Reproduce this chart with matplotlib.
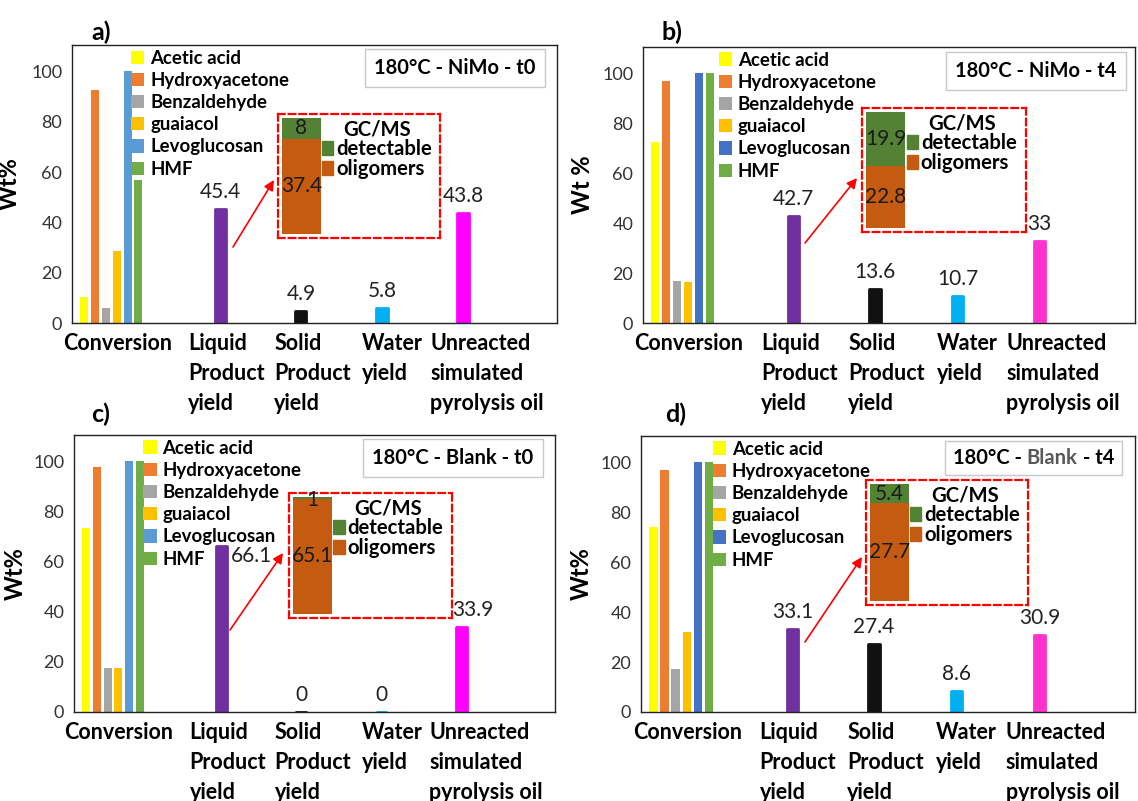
import matplotlib
matplotlib.use("Agg")
import matplotlib.pyplot as plt
from matplotlib.patches import FancyArrowPatch, Patch, Rectangle
from matplotlib.text import Annotation
from matplotlib.transforms import Bbox

plt.rcParams['font.family'] = ['Lato', 'DejaVu Sans']

# ---- data ----
compounds = ['Acetic acid', 'Hydroxyacetone', 'Benzaldehyde', 'guaiacol', 'Levoglucosan', 'HMF']
categories = ['Liquid\nProduct\nyield', 'Solid\nProduct\nyield', 'Water\nyield',
              'Unreacted\nsimulated\npyrolysis oil']
panel_letters = ['a)', 'b)', 'c)', 'd)']
ylabels = ['Wt%', 'Wt %', 'Wt%', 'Wt%']
titles = ['180°C - NiMo - t0', '180°C - NiMo - t4', '180°C - Blank - t0', '180°C - Blank - t4']

conv_a = [10.4, 92.8, 6.1, 28.8, 100, 57]
conv_b = [72.4, 97.0, 17.0, 16.5, 100, 100]
conv_c = [73.4, 97.8, 17.6, 17.4, 100, 100]
conv_d = [74.0, 96.8, 17.2, 32.0, 100, 100]

yields_a = [45.4, 4.9, 5.8, 43.8]
yields_b = [42.7, 13.6, 10.7, 33]
yields_c = [66.1, 0, 0, 33.9]
yields_d = [33.1, 27.4, 8.6, 30.9]

gcms_detectable = [8, 19.9, 1, 5.4]
gcms_oligomers = [37.4, 22.8, 65.1, 27.7]

conversions = [conv_a, conv_b, conv_c, conv_d]
yields = [yields_a, yields_b, yields_c, yields_d]

# ---- layout (pixels of the 1138x801 canvas) ----
W, H = 1138, 801
fig = plt.figure(figsize=(W / 100, H / 100), dpi=100)

def fx(px):
    return px / W

def fy(py):
    return 1 - py / H

axes_px = [(72, 45, 557, 323), (643, 47, 1135, 323), (74, 435, 555, 712), (641, 436, 1135, 712)]
inset_px = [(278, 114, 440, 238), (862, 108, 1026, 232), (289, 493, 452, 618), (866, 480, 1028, 605)]
arrows_px = [((233, 247), (274, 180)), ((805, 243), (857, 178)),
             ((230, 630), (283, 553)), ((805, 642), (862, 557))]
letters_px = [(101, 32), (672, 32), (101, 414), (676, 414)]
title_px = [(455, 68), (1036, 71), (453, 458), (1040, 458)]
legend_x = [0.118, 0.15, 0.14, 0.142]
ylab_x = [-0.105, -0.10, -0.098, -0.097]

conv_colors_ac = ['#FFFF00', '#ED7D31', '#A5A5A5', '#FFC000', '#5B9BD5', '#70AD47']
conv_colors_bd = ['#FFFF00', '#ED7D31', '#A5A5A5', '#FFC000', '#4472C4', '#70AD47']
yield_colors_ac = ['#7030A0', '#111111', '#00B0F0', '#FF00FF']
yield_colors_bd = ['#7030A0', '#111111', '#00B0F0', '#FF33CC']

cat_x = [1.36, 2.36, 3.37, 4.38]
label_x = [0.96, 2.03, 3.12, 3.97]
title_fp = dict(fontsize=14.5, fontweight='bold')

for i in range(4):
    x0, y0, x1, y1 = axes_px[i]
    ax = fig.add_axes([fx(x0), fy(y1), (x1 - x0) / W, (y1 - y0) / H])
    cc = conv_colors_ac if i in (0, 2) else conv_colors_bd
    yc = yield_colors_ac if i in (0, 2) else yield_colors_bd

    handles = []
    for k, (name, val) in enumerate(zip(compounds, conversions[i])):
        b = ax.bar((k - 2.5) * 0.135, val, width=0.1, color=cc[k], label=name, zorder=2)
        handles.append(b)

    bars = ax.bar(cat_x, yields[i], width=0.14, color=yc, edgecolor=yc, linewidth=2, zorder=2)
    for p in bars.patches:
        p.set_joinstyle('round')
    for j, (xx, v) in enumerate(zip(cat_x, yields[i])):
        if i == 2 and j == 0:
            # this label sits beside the bar top, next to the legend
            ax.annotate(f"{v:g}", xy=(xx + 0.1, v), xytext=(1, -7), textcoords='offset points',
                        ha='left', va='center', fontsize=15, color='#222222')
        else:
            dx = 8 if (i == 2 and j == 3) else 0
            ax.annotate(f"{v:g}", xy=(xx, v), xytext=(dx, 5), textcoords='offset points',
                        ha='center', va='bottom', fontsize=15, color='#222222')

    ax.set_xlim(-0.49, 5.55)
    ax.set_ylim(0, 110.5)
    ax.set_yticks([0, 20, 40, 60, 80, 100])
    ax.set_xticks([])
    ax.tick_params(axis='y', length=0, pad=7, labelsize=13, labelcolor='#333333')
    for s in ax.spines.values():
        s.set_color('#222222')
        s.set_linewidth(1)
    ax.set_ylabel(ylabels[i], fontsize=17, fontweight='bold')
    ax.yaxis.set_label_coords(ylab_x[i], 0.5)

    ax.annotate('Conversion', xy=(0.075, 0), xycoords=('data', 'axes fraction'),
                xytext=(0, -7), textcoords='offset points', ha='center', va='top',
                fontsize=15.5, fontweight='bold')
    for lx, lab in zip(label_x, categories):
        ax.annotate(lab, xy=(lx, 0), xycoords=('data', 'axes fraction'),
                    xytext=(0, -7), textcoords='offset points', ha='left', va='top',
                    fontsize=15.5, fontweight='bold', linespacing=1.53)

    ax.legend(handles=handles, loc='upper left', bbox_to_anchor=(legend_x[i], 0.99),
              borderaxespad=0, borderpad=0.1, frameon=False, handlelength=0.72,
              handleheight=0.72, handletextpad=0.3, labelspacing=0.28,
              prop={'size': 13.4, 'weight': 'bold'})

    # title box
    tx, ty = title_px[i]
    if i == 3:
        p1 = fig.text(fx(953), fy(ty), '180°C - ', ha='left', va='center', zorder=6, **title_fp)
        p2 = Annotation('Blank', xy=(1, 0), xycoords=p1, ha='left', va='bottom',
                        color='#595959', zorder=6, **title_fp)
        fig.add_artist(p2)
        p3 = Annotation(' - t4', xy=(1, 0), xycoords=p2, ha='left', va='bottom',
                        zorder=6, **title_fp)
        fig.add_artist(p3)
        fig.canvas.draw()
        r = fig.canvas.get_renderer()
        bb = Bbox.union([t.get_window_extent(r) for t in (p1, p2, p3)])
        rb = Bbox.from_extents(bb.x0 - 8, bb.y0 - 7, bb.x1 + 8, bb.y1 + 7)
        rb = rb.transformed(fig.transFigure.inverted())
        fig.add_artist(Rectangle((rb.x0, rb.y0), rb.width, rb.height, transform=fig.transFigure,
                                 fc='white', ec='#C8C8C8', lw=1, zorder=5))
    else:
        fig.text(fx(tx), fy(ty), titles[i], ha='center', va='center',
                 bbox=dict(boxstyle='square,pad=0.45', fc='white', ec='#C8C8C8', lw=1),
                 **title_fp)

    # panel letter
    lx_, ly_ = letters_px[i]
    fig.text(fx(lx_), fy(ly_), panel_letters[i], ha='center', va='center',
             fontsize=18, fontweight='bold')

    # GC/MS inset
    bx0, by0, bx1, by1 = inset_px[i]
    iax = fig.add_axes([fx(bx0), fy(by1), (bx1 - bx0) / W, (by1 - by0) / H])
    iax.set_zorder(4)
    iax.patch.set_facecolor('none')
    total = gcms_detectable[i] + gcms_oligomers[i]
    m = 0.034 * total / 0.932
    iax.set_xlim(0, 1)
    iax.set_ylim(-m, total + m)
    iax.bar(0.145, gcms_oligomers[i], width=0.24, color='#C55A11')
    iax.bar(0.145, gcms_detectable[i], width=0.24, bottom=gcms_oligomers[i], color='#548235')
    iax.text(0.145, gcms_oligomers[i] / 2, f"{gcms_oligomers[i]:g}", ha='center', va='center',
             fontsize=15, color='#1a1a1a')
    if gcms_detectable[i] > 3:
        iax.text(0.145, gcms_oligomers[i] + gcms_detectable[i] / 2, f"{gcms_detectable[i]:g}",
                 ha='center', va='center', fontsize=15, color='#1a1a1a')
    else:
        iax.text(0.145, total - 0.02 * total, f"{gcms_detectable[i]:g}", ha='center',
                 va='center', fontsize=15, color='#1a1a1a')
    iax.set_xticks([])
    iax.set_yticks([])
    for s in iax.spines.values():
        s.set_color('#FF0000')
        s.set_linewidth(1.6)
        s.set_linestyle((0, (3, 1.8)))
    ileg = iax.legend(handles=[Patch(color='#548235', label='detectable'),
                               Patch(color='#C55A11', label='oligomers')],
                      title='GC/MS', loc='upper left', bbox_to_anchor=(0.26, 0.975),
                      borderaxespad=0, borderpad=0.1, frameon=False, handlelength=0.55,
                      handleheight=0.7, handletextpad=0.15, labelspacing=0.0,
                      prop={'size': 14.6, 'weight': 'bold'})
    ileg.get_title().set_fontsize(14.6)
    ileg.get_title().set_fontweight('bold')

    # arrow from liquid bar to inset
    (ax_, ay_), (hx_, hy_) = arrows_px[i]
    arr = FancyArrowPatch((fx(ax_), fy(ay_)), (fx(hx_), fy(hy_)), transform=fig.transFigure,
                          arrowstyle='-|>,head_length=6,head_width=3', color='#FF0000',
                          lw=1.2, shrinkA=0, shrinkB=0, zorder=5)
    fig.add_artist(arr)

fig.savefig('out.png', dpi=100)
